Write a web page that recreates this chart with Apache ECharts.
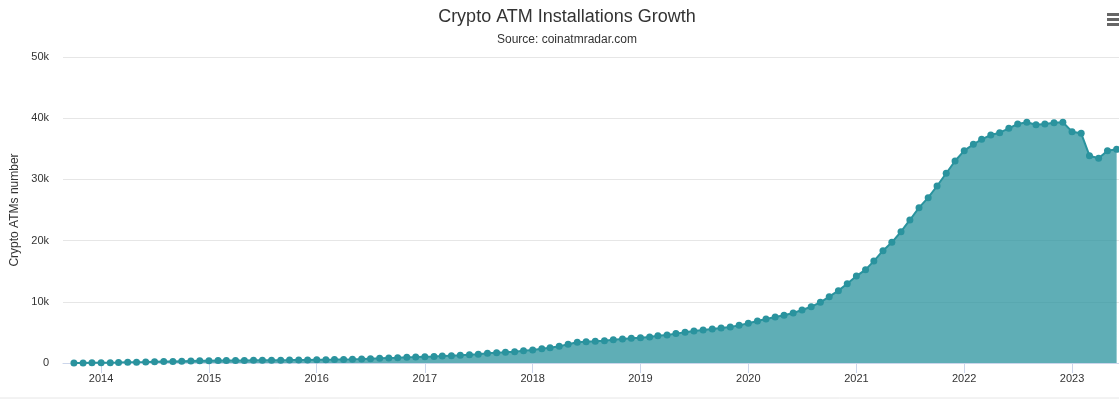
<!DOCTYPE html>
<html>
<head>
<meta charset="utf-8">
<title>Crypto ATM Installations Growth</title>
<script src="https://cdn.jsdelivr.net/npm/echarts@6/dist/echarts.min.js"></script>
<style>
html,body{margin:0;padding:0;background:#fff;}
#chart_main{width:1119px;height:399px;}
</style>
</head>
<body>
<div id="chart_main"></div>
<script>
// monthly totals, first month = Oct 2013
var startYear = 2013;
var startMonth = 10;
var atmCount = [
	10, 20, 30, 45, 60, 80, 110, 140, 170, 200, 230, 260, 300, 340, 360,
	380, 390, 400, 410, 420, 430, 440, 450, 460, 470, 490, 500,
	520, 540, 560, 590, 620, 660, 710, 760, 820, 870, 930, 980,
	1040, 1060, 1140, 1200, 1250, 1360, 1420, 1580, 1690, 1740, 1850, 2020,
	2120, 2340, 2500, 2720, 3050, 3380, 3490, 3540, 3650, 3810, 3920, 4050,
	4120, 4250, 4470, 4580, 4800, 5010, 5230, 5390, 5560, 5720, 5880, 6150,
	6480, 6860, 7190, 7520, 7790, 8170, 8660, 9200, 9910, 10840, 11820, 12950,
	14200, 15250, 16650, 18350, 19720, 21450, 23370, 25380, 27020, 28920, 31000, 33010,
	34700, 35730, 36550, 37250, 37630, 38350, 39050, 39330, 38940, 39050, 39270, 39330,
	37800, 37530, 33870, 33450, 34700, 34920
];
var yTicks = [0, 10000, 20000, 30000, 40000, 50000];

var ary_data = [];
for (var i = 0; i < atmCount.length; i++) {
	var m = startMonth - 1 + i;
	var y = startYear + Math.floor(m / 12);
	var mm = (m % 12) + 1;
	ary_data.push([y + '-' + (mm < 10 ? '0' + mm : mm) + '-01', atmCount[i]]);
}

var font = '"Liberation Sans", Arial, sans-serif';
var myChart = echarts.init(document.getElementById('chart_main'));
var option = {
	animation: false,
	title: {
		text: 'Crypto ATM Installations Growth',
		subtext: 'Source: coinatmradar.com',
		left: 562,
		textAlign: 'center',
		top: 3,
		itemGap: 8,
		textStyle: { fontFamily: font, fontSize: 18, fontWeight: 'normal', color: '#333' },
		subtextStyle: { fontFamily: font, fontSize: 12, color: '#333' }
	},
	grid: { left: 63, right: 0, top: 57, bottom: 36 },
	xAxis: {
		type: 'time',
		min: '2013-08-25',
		max: '2023-06-09',
		splitNumber: 10,
		minInterval: 365 * 24 * 3600 * 1000,
		axisLine: { lineStyle: { color: '#ccd6eb' } },
		axisTick: { show: true, length: 10, lineStyle: { color: '#ccd6eb' } },
		axisLabel: {
			formatter: '{yyyy}',
			fontFamily: font, fontSize: 11, color: '#333', margin: 10,
			showMinLabel: false, showMaxLabel: false
		},
		splitLine: { show: false }
	},
	yAxis: {
		type: 'value',
		min: yTicks[0],
		max: yTicks[yTicks.length - 1],
		interval: yTicks[1] - yTicks[0],
		name: 'Crypto ATMs number',
		nameLocation: 'middle',
		nameGap: 37,
		nameTextStyle: { fontFamily: font, fontSize: 12, color: '#333' },
		axisLine: { show: false },
		axisTick: { show: false },
		axisLabel: {
			fontFamily: font, fontSize: 11, color: '#333', margin: 14,
			formatter: function (v) { return v === 0 ? '0' : (v / 1000) + 'k'; }
		},
		splitLine: { lineStyle: { color: '#e6e6e6' } }
	},
	series: [{
		name: 'Crypto ATMs',
		type: 'line',
		data: ary_data,
		symbol: 'circle',
		symbolSize: 7,
		showAllSymbol: true,
		itemStyle: { color: '#2a939e' },
		lineStyle: { color: '#2a939e', width: 2 },
		areaStyle: { color: '#2a939e', opacity: 0.75 }
	}],
	graphic: [
		{ type: 'rect', left: 1107, top: 13, shape: { width: 12, height: 3 }, style: { fill: '#666' } },
		{ type: 'rect', left: 1107, top: 18, shape: { width: 12, height: 3 }, style: { fill: '#666' } },
		{ type: 'rect', left: 1107, top: 23, shape: { width: 12, height: 3 }, style: { fill: '#666' } },
		{ type: 'line', shape: { x1: 0, y1: 398, x2: 1119, y2: 398 }, style: { stroke: '#e6e6e6', lineWidth: 1 } }
	]
};
myChart.setOption(option);
</script>
</body>
</html>
